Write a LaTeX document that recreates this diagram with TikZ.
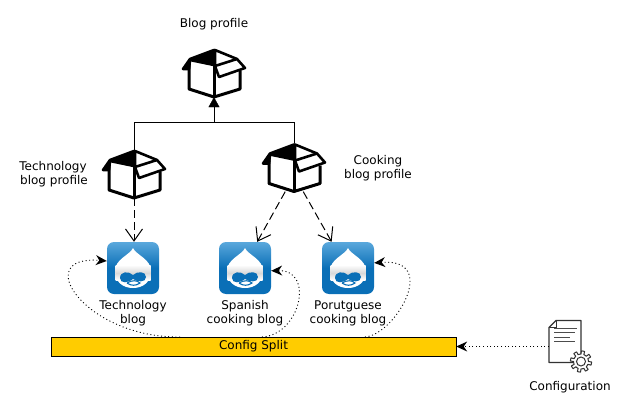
\documentclass[tikz,border=0pt]{standalone}
\usepackage{fontspec}
\setmainfont{DejaVu Sans}
\usetikzlibrary{arrows.meta}

\definecolor{splitfill}{HTML}{FFCC00}
\definecolor{dropblue}{HTML}{0A6FB7}
\definecolor{droplight}{HTML}{5AA8DC}

\tikzset{
  textlabel/.style={align=center, inner sep=0pt, font=\fontsize{12}{14}\selectfont},
  boxicon/.style={minimum width=62pt, minimum height=48pt, inner sep=0pt},
  blogicon/.style={minimum size=52pt, inner sep=0pt},
  docicon/.style={minimum width=32pt, minimum height=43pt, inner sep=0pt},
  dashedline/.style={line width=1pt, dash pattern=on 8pt off 4pt, -{Straight Barb[length=12pt,width=17pt,line width=1pt]}},
  dottedline/.style={line width=0.9pt, dash pattern=on 1pt off 2.6pt, -{Stealth[length=11pt,width=10pt,inset=3.5pt,line width=0pt]}},
  pics/openbox/.style={code={
    \draw[line width=3pt, line join=round, fill=white] (-25,-8) -- (-25,16) -- (0,24) -- (26,16) -- (26,-2);
    \draw[line width=3pt] (0,-8) -- (0,24);
    \fill[line join=round, draw=black, line width=2.6pt] (0,-23) -- (-24,-14) -- (-31,-4) -- (-25,-4) -- (-24,-13) -- (0,-8) -- cycle;
    \draw[line width=2.6pt, line join=round, fill=white] (1,-23) -- (23,-14) -- (31,-5) -- (5,4) -- (1,-7) -- cycle;
    \draw[line width=2.6pt] (1,-7) -- (23,-14);
  }},
  pics/drupal/.style={code={
    \shade[rounded corners=7pt, top color=droplight, bottom color=dropblue, middle color=dropblue]
      (-26,-26) rectangle (26,26);
    \path[fill=white] (0,-20) .. controls (3,-13) and (18,-9) .. (18,3)
      .. controls (18,14) and (10,20) .. (0,20)
      .. controls (-10,20) and (-18,14) .. (-18,3)
      .. controls (-18,-9) and (-3,-13) .. (0,-20) -- cycle;
    \shade[top color=white, bottom color=black!15] (-17.5,-3) rectangle (17.5,5);
    \shade[top color=black!15, bottom color=white] (-17.5,5) rectangle (17.5,12);
    \fill[dropblue] (-13,10) .. controls (-13,3) and (-4,3) .. (0,7)
      .. controls (4,3) and (13,3) .. (13,9)
      .. controls (13,15) and (4,14) .. (0,11)
      .. controls (-4,15) and (-13,16) .. (-13,10) -- cycle;
    \draw[dropblue, line width=1.1pt] (-6,15) .. controls (-1,12) and (4,12) .. (7,15)
      .. controls (3,18) and (-2,18) .. (-6,15);
  }},
  pics/configdoc/.style={code={
    % sheet with folded corner
    \draw[line width=1.3pt, black!80, fill=white, line join=round] (-9,-21) -- (16,-21) -- (16,21) -- (-16,21) -- (-16,-14) -- cycle;
    \draw[line width=1pt, black!80] (-9,-21) -- (-9,-14) -- (-16,-14);
    % text lines
    \foreach \ypos/\xend in {-13/12, -9/10, -4/5, 0/10}
      \draw[line width=1.3pt, black!70] (-11,\ypos) -- (\xend,\ypos);
    % gear
    \draw[line width=1pt, black!80, fill=white, line join=round]
      plot[samples=145, domain=0:360] ({16+(9+1.6*(sin(8*\x)>0?1:-1))*cos(\x)}, {20+(9+1.6*(sin(8*\x)>0?1:-1))*sin(\x)}) -- cycle;
    \draw[line width=1pt, black!80] (16,20) circle (4.5);
  }},
}

\begin{document}
\begin{tikzpicture}[x=1pt, y=-1pt]
  \useasboundingbox (0,0) rectangle (629,412);

  % Profiles
  \node[boxicon] (blogprofile) at (214,73) {};
  \node[boxicon] (techprofile) at (134,174) {};
  \node[boxicon] (cookprofile) at (294,167.5) {};
  \pic at (blogprofile) {openbox};
  \pic at (techprofile) {openbox};
  \pic at (cookprofile) {openbox};

  % Sites
  \node[blogicon] (techblog) at (133,268) {};
  \node[blogicon] (spanishblog) at (245,268) {};
  \node[blogicon] (portblog) at (348,268) {};
  \pic at (techblog) {drupal};
  \pic at (spanishblog) {drupal};
  \pic at (portblog) {drupal};

  % Config
  \node[draw, fill=splitfill, minimum width=405pt, minimum height=19pt, inner sep=0pt, font=\fontsize{12}{14}\selectfont] (configsplit) at (253.5,346.5) {Config Split};
  \node[docicon] (configuration) at (565,341.5) {};
  \pic at (configuration) {configdoc};

  % Labels
  \node[textlabel] (bloglabel) at (214,24) {Blog profile};
  \node[textlabel] (techlabel) at (53,174) {Technology\\ \hspace{2pt}blog profile};
  \node[textlabel] (cooklabel) at (378,168) {Cooking\\blog profile};
  \node[textlabel] (techbloglabel) at (133,313) {Technology\\blog};
  \node[textlabel] (spanishlabel) at (245,313) {Spanish\\cooking blog};
  \node[textlabel] (portlabel) at (348,313) {Porutguese\\cooking blog};
  \node[textlabel] (configlabel) at (570,387) {Configuration};

  % Inheritance
  \coordinate (junction) at (214,122);
  \draw (techprofile.north) |- (junction);
  \draw (cookprofile.north) |- (junction);
  \draw[-{Triangle[length=10pt,width=11pt]}] (junction) -- (blogprofile.south);

  % Dashed arrows
  \draw[dashedline] (techprofile.south) -- (techprofile.south |- techblog.north);
  \draw[dashedline] (cookprofile.-110) -- (spanishblog.65);
  \draw[dashedline] (cookprofile.-69) -- (portblog.122);

  % Dotted arrows
  \coordinate (techsplit) at (180,337);
  \coordinate (spanishsplit) at (262,337);
  \coordinate (portsplit) at (365,337);
  \draw[dottedline] (techsplit) .. controls (85,338) and (30,255) .. (techblog.165);
  \draw[dottedline] (spanishsplit) .. controls (300,335) and (315,270) .. (spanishblog.-6);
  \draw[dottedline] (portsplit) .. controls (395,335) and (440,258) .. (portblog.11);
  \draw[dottedline] (configuration.west |- configsplit.east) -- (configsplit.east);
\end{tikzpicture}
\end{document}
